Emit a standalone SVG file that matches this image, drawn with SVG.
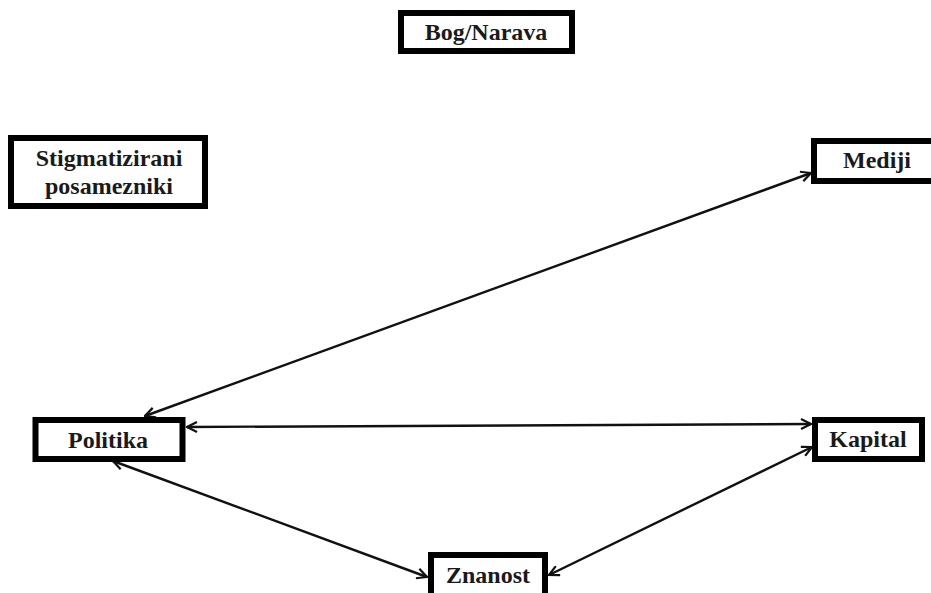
<svg xmlns="http://www.w3.org/2000/svg" width="931" height="593" viewBox="0 0 931 593">
  <defs>
    <marker id="arr" viewBox="0 0 12 12" refX="11" refY="6" markerWidth="12" markerHeight="12" markerUnits="userSpaceOnUse" orient="auto-start-reverse">
      <path d="M1,1 L11,6 L1,11" fill="none" stroke="#111" stroke-width="2.2" stroke-linejoin="miter"/>
    </marker>
  </defs>
  <style>
    .box { fill: #fff; stroke: #000; stroke-width: 6; }
    .lbl { font-family: "Liberation Serif", "Times New Roman", serif; font-weight: bold; font-size: 24px; fill: #1a1a1a; text-anchor: middle; }
    .edge { stroke: #111; stroke-width: 2.4; fill: none; marker-start: url(#arr); marker-end: url(#arr); }
  </style>
  <rect width="931" height="593" fill="#fff"/>

  <g id="connectors">
    <line class="edge" x1="145" y1="416" x2="811" y2="173"/>
    <line class="edge" x1="187" y1="427" x2="811" y2="424"/>
    <line class="edge" x1="113" y1="461" x2="427" y2="577"/>
    <line class="edge" x1="549" y1="575" x2="812" y2="447"/>
  </g>

  <g id="bog-narava">
    <rect class="box" x="401" y="13" width="171" height="38"/>
    <text class="lbl" x="486" y="40">Bog/Narava</text>
  </g>

  <g id="stigmatizirani">
    <rect class="box" x="11" y="138" width="194" height="68"/>
    <text class="lbl" x="109" y="166">Stigmatizirani</text>
    <text class="lbl" x="109" y="194">posamezniki</text>
  </g>

  <g id="mediji">
    <rect class="box" x="814" y="141" width="130" height="40"/>
    <text class="lbl" x="877" y="168">Mediji</text>
  </g>

  <g id="politika">
    <rect class="box" x="35.5" y="420" width="147" height="39"/>
    <text class="lbl" x="108" y="448">Politika</text>
  </g>

  <g id="kapital">
    <rect class="box" x="815" y="420" width="107" height="39"/>
    <text class="lbl" x="868" y="447">Kapital</text>
  </g>

  <g id="znanost">
    <rect class="box" x="431" y="555" width="114" height="45"/>
    <text class="lbl" x="488" y="583">Znanost</text>
  </g>
</svg>
